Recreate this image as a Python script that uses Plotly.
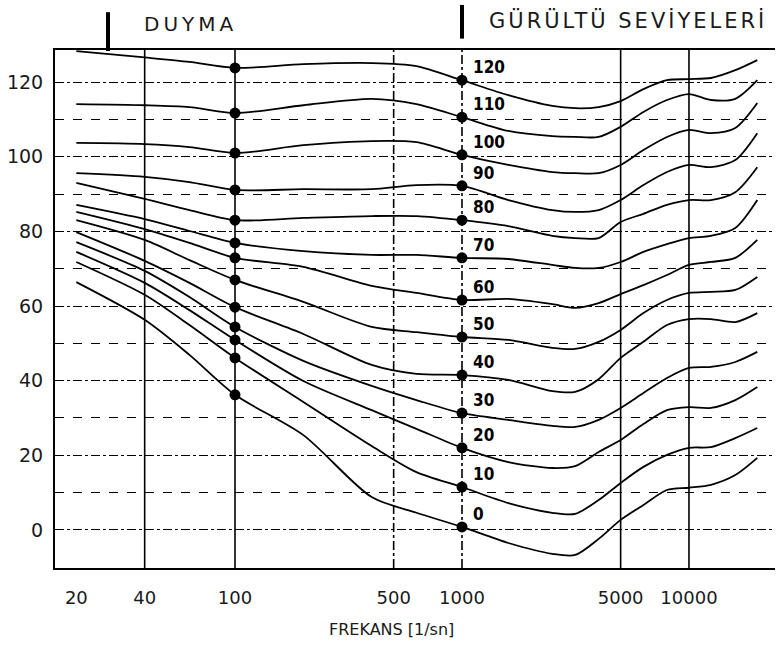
import math
import plotly.graph_objects as go

# Frequencies (Hz) at which each equal-loudness contour was read
FREQ = [20, 40, 63, 100, 200, 400, 630, 1000, 1600, 2500, 3150, 4000,
        5000, 6300, 8000, 10000, 12500, 16000, 20000]

# Loudness levels (phon) of the contours
PHON = [0, 10, 20, 30, 40, 50, 60, 70, 80, 90, 100, 110, 120]

# Sound pressure level (dB) of each contour at the frequencies above
L0 = [66.4, 56.3, 46.9, 36.2, 25.4, 8.8, 4.6, 0.8, -3.5, -6.4, -6.7, -2.4, 2.7, 6.7, 10.7, 11.3, 12.1, 14.7, 19.3]
L10 = [71.8, 63.0, 54.9, 46.1, 34.3, 22.5, 15.5, 11.5, 7.2, 4.6, 4.3, 8.0, 12.6, 16.9, 20.1, 22.0, 22.2, 24.6, 27.3]
L20 = [74.5, 66.2, 58.9, 50.9, 39.9, 32.1, 27.1, 22.0, 18.2, 16.6, 17.1, 20.9, 24.1, 28.4, 32.1, 32.9, 32.7, 34.8, 38.3]
L30 = [77.1, 69.4, 62.4, 54.4, 45.3, 38.6, 34.8, 31.3, 29.5, 27.9, 27.6, 29.5, 32.7, 36.7, 40.7, 43.4, 43.7, 45.0, 47.7]
L40 = [79.8, 72.1, 66.2, 59.7, 52.5, 44.2, 41.8, 41.5, 40.2, 37.2, 37.0, 40.4, 46.1, 50.4, 54.9, 56.5, 56.5, 55.7, 58.1]
L50 = [83.0, 77.7, 72.3, 67.0, 61.1, 54.4, 53.0, 51.7, 50.9, 48.8, 48.5, 50.4, 53.6, 58.1, 61.6, 63.5, 63.8, 64.3, 67.8]
L60 = [85.2, 80.6, 76.9, 72.9, 70.5, 65.4, 63.5, 61.6, 61.9, 60.5, 59.5, 60.8, 63.2, 65.6, 68.3, 71.0, 71.8, 72.9, 77.7]
L70 = [87.1, 83.3, 80.1, 76.9, 74.7, 73.7, 73.7, 72.9, 72.6, 71.0, 70.2, 70.2, 71.8, 74.5, 76.6, 78.2, 78.8, 80.9, 88.4]
L80 = [93.0, 88.7, 85.7, 83.0, 83.6, 84.1, 84.1, 83.0, 81.4, 78.8, 78.2, 78.2, 82.5, 84.7, 87.1, 88.4, 88.4, 90.5, 97.2]
L90 = [95.6, 94.6, 93.2, 91.1, 91.3, 91.3, 92.4, 92.2, 88.4, 85.7, 85.2, 85.7, 88.4, 92.4, 95.9, 97.8, 97.2, 99.1, 106.3]
L100 = [103.7, 103.4, 102.6, 101.0, 103.1, 104.2, 103.9, 100.5, 97.8, 95.9, 95.6, 95.6, 97.8, 101.8, 105.3, 107.2, 106.3, 107.7, 114.4]
L110 = [114.1, 113.8, 113.3, 111.7, 113.8, 115.5, 114.1, 110.6, 106.9, 105.5, 105.3, 105.3, 108.0, 112.0, 115.2, 116.8, 115.2, 115.5, 120.5]
L120 = [128.3, 126.6, 125.4, 123.8, 124.8, 125.1, 124.3, 120.5, 116.5, 113.6, 113.0, 113.3, 114.9, 118.1, 120.5, 120.8, 121.1, 123.2, 125.9]

CURVES = [L0, L10, L20, L30, L40, L50, L60, L70, L80, L90, L100, L110, L120]

# Frequencies where the reference dots sit
DOT_FREQS = [100, 1000]

# Axis ticks
X_TICKS = [20, 40, 100, 500, 1000, 5000, 10000]
X_TICKTEXT = ["20", "40", "100", "500", "1000", "5000", "10000"]
Y_TICKS = [0, 20, 40, 60, 80, 100, 120]
Y_MINOR = [10, 30, 50, 70, 90, 110]
GRID_FREQS = [40, 100, 500, 1000, 5000, 10000]
GRID_DASH = ["solid", "solid", "dashdot", "dashdot", "solid", "solid"]

TEXT_COLOR = "#1a1a1a"
FONT = "DejaVu Sans"

fig = go.Figure()

for lvl in CURVES:
    fig.add_trace(go.Scatter(
        x=FREQ, y=lvl, mode="lines",
        line=dict(color="black", width=1.8, shape="spline", smoothing=0.8),
        hoverinfo="skip", showlegend=False))

dot_x, dot_y = [], []
for lvl in CURVES:
    for f in DOT_FREQS:
        i = FREQ.index(f)
        dot_x.append(FREQ[i])
        dot_y.append(lvl[i])
fig.add_trace(go.Scatter(
    x=dot_x, y=dot_y, mode="markers",
    marker=dict(color="black", size=11),
    hoverinfo="skip", showlegend=False))

annotations = []
i1k = FREQ.index(1000)
for p, lvl in zip(PHON, CURVES):
    annotations.append(dict(
        x=math.log10(FREQ[i1k]), y=lvl[i1k], xref="x", yref="y",
        text="<b>%d</b>" % p, showarrow=False,
        xanchor="left", yanchor="middle", xshift=9, yshift=13,
        font=dict(family="DejaVu Sans Condensed, DejaVu Sans", size=17, color="black")))

annotations.append(dict(
    x=0.1208, y=1.051, xref="paper", yref="paper",
    text='<span style="letter-spacing:4px">DUYMA</span>', showarrow=False,
    xanchor="left", yanchor="middle",
    font=dict(family=FONT, size=20, color=TEXT_COLOR)))
annotations.append(dict(
    x=0.6, y=1.057, xref="paper", yref="paper",
    text='<span style="letter-spacing:3px">GÜRÜLTÜ SEVİYELERİ</span>', showarrow=False,
    xanchor="left", yanchor="middle",
    font=dict(family=FONT, size=21, color=TEXT_COLOR)))
annotations.append(dict(
    x=0.467, y=-0.118, xref="paper", yref="paper",
    text="FREKANS [1/sn]", showarrow=False,
    xanchor="center", yanchor="middle",
    font=dict(family=FONT, size=16, color=TEXT_COLOR)))

shapes = []
for f, d in zip(GRID_FREQS, GRID_DASH):
    shapes.append(dict(type="line", xref="x", yref="paper",
                       x0=f, x1=f, y0=0, y1=1,
                       line=dict(color="black", width=1.6, dash=d), layer="below"))
# pointer bars above the plot
shapes.append(dict(type="line", xref="paper", yref="paper",
                   x0=0.0736, x1=0.0736, y0=0.998, y1=1.073,
                   line=dict(color="black", width=4)))
shapes.append(dict(type="line", xref="x", yref="paper",
                   x0=1000, x1=1000, y0=1.022, y1=1.087,
                   line=dict(color="black", width=4)))

fig.update_layout(
    width=779, height=646, autosize=False,
    margin=dict(l=55, r=4, t=50, b=78, autoexpand=False),
    paper_bgcolor="white", plot_bgcolor="white",
    showlegend=False,
    annotations=annotations,
    shapes=shapes,
    xaxis=dict(
        type="log", range=[1.207, 4.379], automargin=False,
        tickvals=X_TICKS, ticktext=X_TICKTEXT,
        showgrid=False, zeroline=False,
        showline=True, linecolor="black", linewidth=2, mirror=True,
        ticks="", ticklabelstandoff=12,
        tickfont=dict(family=FONT, size=18, color=TEXT_COLOR)),
    yaxis=dict(
        range=[-10.2, 128.6], automargin=False,
        tickvals=Y_TICKS,
        showgrid=True, gridcolor="black", gridwidth=1, griddash="dashdot",
        minor=dict(tickvals=Y_MINOR, showgrid=True, gridcolor="black",
                   gridwidth=1, griddash="dash", ticks=""),
        zeroline=False,
        showline=True, linecolor="black", linewidth=2,
        ticks="", ticklabelstandoff=6,
        tickfont=dict(family=FONT, size=19, color=TEXT_COLOR)),
)

fig.write_html("out.html", config={"displayModeBar": False},
               post_script="document.body.style.margin='0px';")
